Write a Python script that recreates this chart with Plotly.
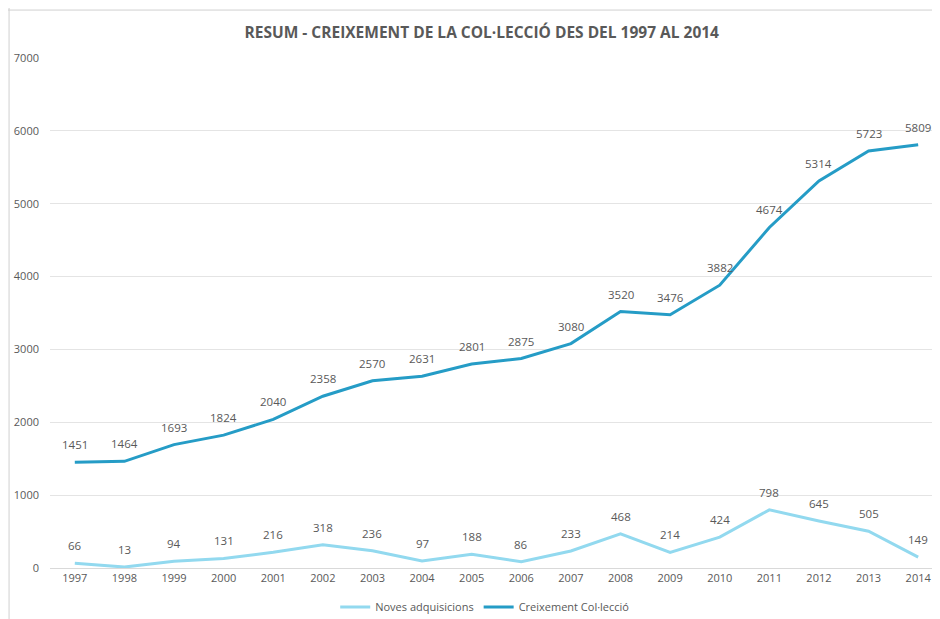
import plotly.graph_objects as go

ANYS = [str(a) for a in range(1997, 2015)]
NOVES = [66, 13, 94, 131, 216, 318, 236, 97, 188, 86, 233, 468, 214, 424, 798, 645, 505, 149]
CREIXEMENT = [1451, 1464, 1693, 1824, 2040, 2358, 2570, 2631, 2801, 2875, 3080, 3520, 3476,
              3882, 4674, 5314, 5723, 5809]

COLOR_NOVES = "#92D9EF"
COLOR_CREIX = "#259CC6"
GRIS = "#595959"
FONT = "Open Sans"

idx = list(range(len(ANYS)))

fig = go.Figure()
fig.add_trace(go.Scatter(
    x=idx, y=NOVES, name="Noves adquisicions", mode="lines",
    line=dict(color=COLOR_NOVES, width=3),
))
fig.add_trace(go.Scatter(
    x=idx, y=CREIXEMENT, name="Creixement Col·lecció", mode="lines",
    line=dict(color=COLOR_CREIX, width=3),
))

# etiquetes de dades
for serie in (NOVES, CREIXEMENT):
    for i, v in zip(idx, serie):
        fig.add_annotation(x=i, y=v, text=str(v), showarrow=False,
                           yanchor="bottom", yshift=8,
                           font=dict(size=11.5, color=GRIS, family=FONT))

fig.update_layout(
    width=940, height=619,
    paper_bgcolor="white", plot_bgcolor="white",
    margin=dict(l=42, r=8, t=50, b=59, autoexpand=False),
    title=dict(text="<b>RESUM - CREIXEMENT DE LA COL·LECCIÓ DES DEL 1997 AL 2014</b>",
               x=0.504, xanchor="center", y=0.961, yanchor="middle",
               font=dict(size=15.5, color=GRIS, family=FONT)),
    font=dict(family=FONT, color=GRIS, size=11),
    xaxis=dict(
        range=[-0.5, 17.44], tickvals=idx, ticktext=ANYS, automargin=False,
        showgrid=False, showline=True, linecolor="#D9D9D9", ticks="",
        tickfont=dict(size=11, color=GRIS), zeroline=False,
    ),
    yaxis=dict(
        range=[0, 7000], dtick=1000, showgrid=True, gridcolor="#E4E4E4",
        zeroline=False, ticks="", tickfont=dict(size=11, color=GRIS),
        ticklabelstandoff=10, automargin=False,
    ),
    legend=dict(orientation="h", x=0.489, xanchor="center", y=-0.0765, yanchor="middle",
                font=dict(size=11, color=GRIS)),
    showlegend=True,
)

# marc del gràfic
fig.add_shape(type="line", xref="paper", yref="paper", x0=-0.046, x1=-0.046, y0=-0.2, y1=1.2,
              line=dict(color="#D0D0D0", width=1))
fig.add_shape(type="line", xref="paper", yref="paper", x0=-0.2, x1=1.2, y0=1.094, y1=1.094,
              line=dict(color="#D0D0D0", width=1))

fig.write_html("out.html")
